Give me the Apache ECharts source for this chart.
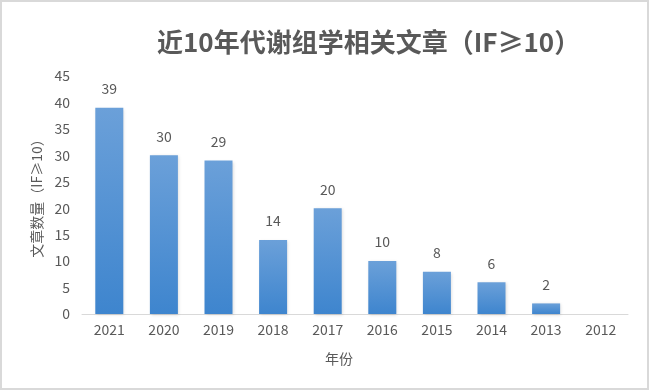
<!DOCTYPE html>
<html><head><meta charset="utf-8">
<script src="https://cdn.jsdelivr.net/npm/echarts@6/dist/echarts.min.js"></script>
<style>html,body{margin:0;padding:0;background:#fff}#c{width:650px;height:391px}</style>
</head><body><div id="c"></div>
<script>
const categories = ['2021','2020','2019','2018','2017','2016','2015','2014','2013','2012'];
const values = [39,30,29,14,20,10,8,6,2,0];
const yTicks = {min:0, max:45, interval:5};
const titleText = '近10年代谢组学相关文章（IF≥10）';
const yName = '文章数量（IF≥10）';
const xName = '年份';

const chart = echarts.init(document.getElementById('c'));
const font = '"Noto Sans CJK SC", "Microsoft YaHei", sans-serif';
chart.setOption({
  animation:false,
  graphic:[{type:'rect', shape:{x:1,y:1,width:647,height:388}, style:{fill:'none', stroke:'#d9d9d9', lineWidth:2}, silent:true, z:-1}],
  title:{text:titleText, left:152, top:24, textStyle:{fontFamily:font, fontSize:26, fontWeight:'bold', color:'#595959'}},
  grid:{left:82, right:22, top:76, bottom:77},
  xAxis:{type:'category', data:categories, name:xName, nameLocation:'middle', nameGap:34,
    nameTextStyle:{fontFamily:font, fontSize:14, color:'#595959', padding:[4,32,0,0]},
    axisLine:{lineStyle:{color:'#d9d9d9', width:1}}, axisTick:{show:false},
    axisLabel:{fontFamily:font, fontSize:14, color:'#595959', margin:9}},
  yAxis:{type:'value', min:yTicks.min, max:yTicks.max, interval:yTicks.interval, name:yName, nameLocation:'middle', nameGap:38,
    nameTextStyle:{fontFamily:font, fontSize:14, color:'#595959'},
    axisLine:{show:false}, axisTick:{show:false}, splitLine:{show:false},
    axisLabel:{fontFamily:font, fontSize:14, color:'#595959', margin:12}},
  series:[{type:'bar', data:values, barWidth:28,
    itemStyle:{color:new echarts.graphic.LinearGradient(0,0,0,1,[{offset:0,color:'#6ba0d9'},{offset:1,color:'#3e85ce'}]),
      shadowColor:'rgba(0,0,0,0.15)', shadowBlur:3, shadowOffsetX:1, shadowOffsetY:1},
    label:{show:true, position:'top', distance:12, fontFamily:font, fontSize:14, color:'#595959',
      formatter:p=>p.value>0?p.value:''}}]
});
</script></body></html>
